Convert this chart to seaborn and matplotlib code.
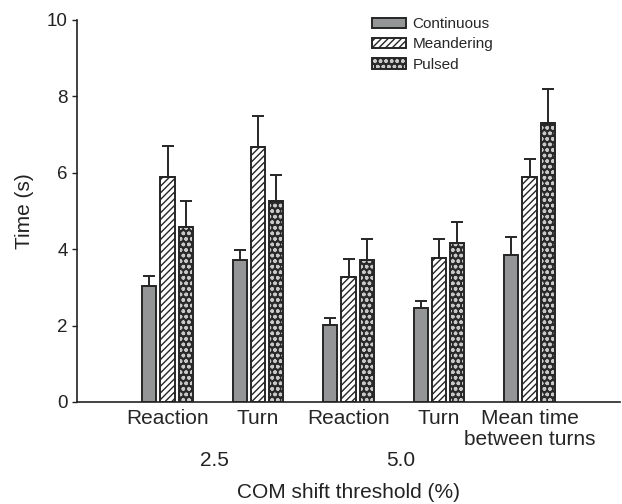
import numpy as np
import pandas as pd
import matplotlib
matplotlib.use("Agg")
import matplotlib.pyplot as plt
import seaborn as sns
from matplotlib.colors import to_rgba
from matplotlib.transforms import blended_transform_factory

# ---- data ----
categories = ["Reaction 2.5", "Turn 2.5", "Reaction 5.0", "Turn 5.0", "Mean time between turns"]
tick_labels = ["Reaction", "Turn", "Reaction", "Turn", "Mean time\nbetween turns"]
series = ["Continuous", "Meandering", "Pulsed"]
continuous = [3.04, 3.71, 2.02, 2.45, 3.84]
meandering = [5.90, 6.68, 3.27, 3.78, 5.90]
pulsed = [4.57, 5.25, 3.71, 4.17, 7.30]
continuous_err = [0.25, 0.27, 0.18, 0.20, 0.49]
meandering_err = [0.80, 0.82, 0.48, 0.49, 0.45]
pulsed_err = [0.68, 0.70, 0.56, 0.55, 0.89]
threshold_labels = ["2.5", "5.0"]
xlabel = "COM shift threshold (%)"
ylabel = "Time (s)"

errors = {"Continuous": continuous_err, "Meandering": meandering_err, "Pulsed": pulsed_err}

df = pd.DataFrame({
    "measure": np.repeat([categories], 3, axis=0).ravel(),
    "condition": np.repeat(series, len(categories)),
    "time": continuous + meandering + pulsed,
})

sns.set_style("ticks")
plt.rcParams["font.family"] = ["Liberation Sans", "DejaVu Sans"]
plt.rcParams["hatch.linewidth"] = 1.0

fig = plt.figure(figsize=(6.22, 5.04), dpi=100)
ax = fig.add_axes([77 / 622, 1 - 402 / 504, 543 / 622, 382 / 504])

edge = "#262626"
palette = {"Continuous": "#939598", "Meandering": "white", "Pulsed": "#2a2a2a"}
sns.barplot(data=df, x="measure", y="time", hue="condition", order=categories,
            hue_order=series, palette=palette, width=0.6, gap=0.22,
            errorbar=None, edgecolor=edge, linewidth=1.4, ax=ax, legend=False)

bar_containers = list(ax.containers)
hatches = {"Continuous": None, "Meandering": "/////", "Pulsed": "ooo"}
for cont, name in zip(bar_containers, series):
    xs, tops = [], []
    for p in cont.patches:
        if hatches[name]:
            p.set_hatch(hatches[name])
            if name == "Pulsed":
                try:
                    p.set_hatchcolor("#c8c8c8")
                except AttributeError:
                    p._hatch_color = to_rgba("#c8c8c8")
        xs.append(p.get_x() + p.get_width() / 2)
        tops.append(p.get_height())
    err = np.array(errors[name])
    ax.errorbar(xs, tops, yerr=[np.zeros_like(err), err], fmt="none",
                ecolor=edge, elinewidth=1.4, capsize=4.3, capthick=1.4, zorder=1)

ax.set_xlim(-1, 5)
ax.set_ylim(0, 10)
ax.set_yticks([0, 2, 4, 6, 8, 10])
ax.set_yticklabels(["0", "2", "4", "6", "8", "10"], fontsize=13.5)
ax.set_xticks(range(len(categories)))
ax.set_xticklabels(tick_labels, fontsize=15, linespacing=1.15)
ax.tick_params(axis="x", length=0, pad=5)
ax.tick_params(axis="y", length=3.5, width=1.0, pad=3, colors="#222222")
ax.set_xlabel("")
ax.set_ylabel("")
for s in ["top", "right"]:
    ax.spines[s].set_visible(False)
for s in ["left", "bottom"]:
    ax.spines[s].set_linewidth(1.2)
    ax.spines[s].set_color("#222222")

trans = blended_transform_factory(ax.transData, ax.transAxes)
for xpos, lab in zip([0.52, 2.58], threshold_labels):
    ax.text(xpos, (402 - 461) / 382, lab, transform=trans, ha="center",
            va="center", fontsize=15, color="#222222")

fig.text(348.5 / 622, 1 - 493 / 504, xlabel, ha="center", va="center",
         fontsize=15, color="#222222")
fig.text(24 / 622, 1 - 211 / 504, ylabel, ha="center", va="center",
         rotation=90, fontsize=15, color="#222222")

handles = [c.patches[0] for c in bar_containers]
leg = ax.legend(handles, series, loc="upper left",
                bbox_to_anchor=(372 / 622, 1 - 17 / 504),
                bbox_transform=fig.transFigure, frameon=False, fontsize=11,
                handlelength=2.2, handleheight=0.65, handletextpad=0.45,
                labelspacing=0.42, borderpad=0, borderaxespad=0)

fig.savefig("out.png", dpi=100)
